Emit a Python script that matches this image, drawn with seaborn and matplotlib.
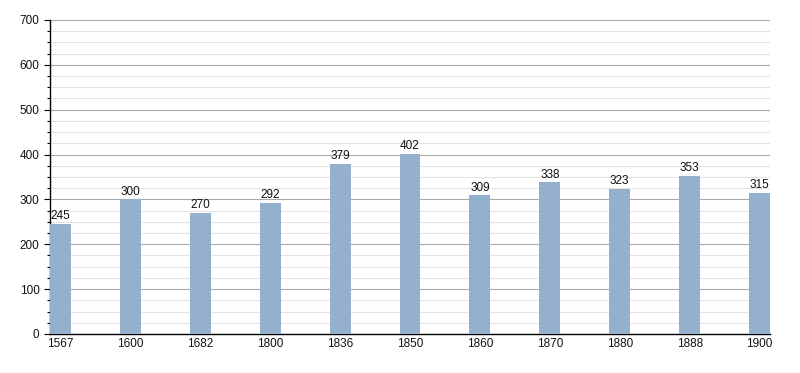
import matplotlib
matplotlib.use("Agg")
import matplotlib.pyplot as plt
import seaborn as sns
import pandas as pd
from matplotlib.ticker import MultipleLocator

years = ["1567", "1600", "1682", "1800", "1836", "1850", "1860", "1870", "1880", "1888", "1900"]
population = [245, 300, 270, 292, 379, 402, 309, 338, 323, 353, 315]

df = pd.DataFrame({"year": years, "pop": population})

sns.set_style("white")
plt.rcParams['font.family'] = ['Liberation Sans', 'DejaVu Sans']

fig = plt.figure(figsize=(8, 3.73), dpi=100)
ax = fig.add_axes([0.0625, 0.1046, 0.9, 0.8418])

sns.barplot(data=df, x="year", y="pop", color="#94b0cc", saturation=1, width=0.3,
            linewidth=0, edgecolor="none", ax=ax, zorder=3)

for i, v in enumerate(population):
    ax.text(i, v + 4, str(v), ha="center", va="bottom", fontsize=8.5, color="#111111", zorder=4)

ax.set_xlim(-0.15, len(years) - 1 + 0.15)
ax.set_ylim(0, 700)
ax.yaxis.set_major_locator(MultipleLocator(100))
ax.yaxis.set_minor_locator(MultipleLocator(25))
ax.grid(which="major", axis="y", color="#aaaaaa", linewidth=0.8, zorder=0)
ax.grid(which="minor", axis="y", color="#e3e3e3", linewidth=0.8, zorder=0)
ax.set_axisbelow(True)
ax.set_xlabel("")
ax.set_ylabel("")
for s in ["top", "right"]:
    ax.spines[s].set_visible(False)
for s in ["left", "bottom"]:
    ax.spines[s].set_color("black")
    ax.spines[s].set_linewidth(1)
ax.tick_params(axis="y", which="major", length=4, width=0.8, labelsize=8.5, left=True, color="black", labelcolor="#111111")
ax.tick_params(axis="y", which="minor", length=2, width=0.8, left=True, color="black")
ax.tick_params(axis="x", length=0, labelsize=8.5, pad=3, labelcolor="#111111")

fig.savefig("out.png", dpi=100)
